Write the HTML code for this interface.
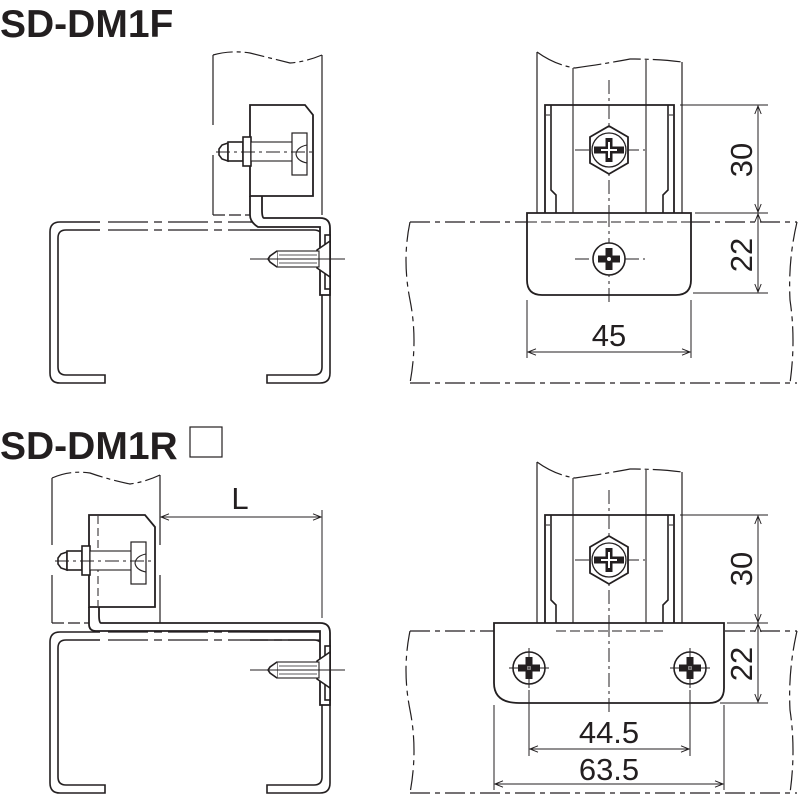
<!DOCTYPE html>
<html><head><meta charset="utf-8"><style>
html,body{margin:0;padding:0;background:#fff;width:800px;height:800px;overflow:hidden}
svg{display:block}
text{font-family:"Liberation Sans",Arial,sans-serif;fill:#231f20}
</style></head><body>
<svg width="800" height="800" viewBox="0 0 800 800" xmlns="http://www.w3.org/2000/svg">
<defs>
<marker id="a" viewBox="0 0 10 10" refX="10" refY="5" markerWidth="10" markerHeight="8" orient="auto-start-reverse" markerUnits="userSpaceOnUse"><path d="M0,1 L10,5 L0,9" fill="none" stroke="#231f20" stroke-width="1.2"/></marker>
<g id="bolt" fill="#fff" stroke="#231f20" stroke-width="1.6">
<path d="M-22,-8 L-28,-6 L-31,-2 L-31,4 L-28,8 L-22,10 Z"/>
<rect x="-22" y="-9" width="15" height="19"/>
<rect x="-7" y="-14" width="8" height="29"/>
<rect x="1" y="-9" width="42" height="19" stroke-width="1.1"/>
<rect x="42" y="-18" width="15" height="42" stroke-width="1.2"/>
<path d="M57,-6 Q47,-4 46,3 Q47,10 57,12" fill="none" stroke-width="1.1"/>
<line x1="-34" y1="1" x2="66" y2="1" stroke-width="1" stroke-dasharray="14,4,3,4"/>
</g>
<g id="csk" fill="#fff" stroke="#231f20" stroke-width="1.6">
<rect x="0" y="-24" width="5" height="54" fill="#fff"/>
<path d="M-8,-9 L5,-18 L5,18 L-8,9 Z"/>
<rect x="-48" y="-8" width="42" height="16" stroke-width="1.1"/>
<path d="M-48,-8 L-55,-3 L-57,0 L-55,3 L-48,8"/>
<line x1="-46" y1="-4" x2="-8" y2="-4" stroke-width="0.8"/>
<line x1="-46" y1="4" x2="-8" y2="4" stroke-width="0.8"/>
<line x1="-75" y1="0" x2="20" y2="0" stroke-width="1"/>
</g>
<g id="chan" fill="none" stroke="#231f20" stroke-width="1.6">
<path d="M55,161 L10,161 Q0,161 0,151 L0,10 Q0,0 10,0 L270,0 Q280,0 280,10 L280,151 Q280,161 270,161 L217,161 L217,153 L264,153 Q272,153 272,145 L272,16 Q272,8 264,8 L16,8 Q8,8 8,16 L8,145 Q8,153 16,153 L55,153 Z"/>
</g>
<g id="ph" stroke="#231f20" fill="#fff">
<circle r="16" stroke-width="1.6"/>
<path d="M-3.5,-11 H3.5 V-3.5 H11 V3.5 H3.5 V11 H-3.5 V3.5 H-11 V-3.5 H-3.5 Z" fill="#231f20" stroke="none"/>
<circle r="2" fill="#fff" stroke="none"/>
</g>
<g id="hex" stroke="#231f20" fill="#fff">
<path d="M0,-24 L19,-13 L19,13 L0,24 L-19,13 L-19,-13 Z" stroke-width="1.8"/>
<circle r="17" stroke-width="1.3"/>
<path d="M-3.5,-12 H3.5 V-3.5 H15 V3.5 H3.5 V12 H-3.5 V3.5 H-15 V-3.5 H-3.5 Z" fill="#231f20" stroke="none"/>
<path d="M-1,-8 H1 V-1 H8 V1 H1 V8 H-1 V1 H-8 V-1 H-1 Z" fill="#fff" stroke="none"/>
</g>
<g id="front" fill="none" stroke="#231f20">
<path d="M537,-53 L537,108 M682,-43 L682,108" stroke-width="1.2"/>
<path d="M537,-53 Q555,-40 575,-37 Q610,-42 630,-46 Q660,-46 682,-43" stroke-width="1.2" stroke-dasharray="28,4,4,4"/>
<line x1="573" y1="-37" x2="573" y2="108" stroke-width="1.1"/>
<line x1="646" y1="-45" x2="646" y2="108" stroke-width="1.1"/>
<path d="M545,108 L545,0 L674,0 L674,108" stroke-width="1.8"/>
<path d="M551,0 L551,85 L556,90 L556,108 M668,0 L668,85 L663,90 L663,108" stroke-width="1.6"/>
<path d="M546,10 L550,10 M669,10 L673,10" stroke-width="1"/>
<line x1="609" y1="-25" x2="609" y2="108" stroke-width="1" stroke-dasharray="14,4,3,4"/>
<line x1="575" y1="45" x2="645" y2="45" stroke-width="1" stroke-dasharray="14,4,3,4"/>
<use href="#hex" x="609" y="45"/>
</g>
</defs>

<text x="0" y="37" font-size="39" font-weight="bold">SD-DM1F</text>
<text x="0" y="459" font-size="39" font-weight="bold">SD-DM1R</text>
<rect x="190" y="427" width="32" height="30" fill="none" stroke="#231f20" stroke-width="1.2"/>

<!-- TOP LEFT -->
<g fill="none" stroke="#231f20" stroke-width="1.2">
<path d="M213,215 L213,55 M322,55 L322,215"/>
<path d="M213,55 Q230,50 250,53 Q270,58 290,63 Q305,62 322,55" stroke-dasharray="20,4,4,4"/>
<path d="M213,215 L255,215" stroke-dasharray="12,4"/>
</g>
<rect x="211" y="125" width="5" height="30" fill="#fff"/>
<use href="#chan" x="50" y="222"/>
<g fill="#fff" stroke="#231f20" stroke-width="1.8">
<path d="M250,196 L250,215 Q250,222 258,227 L320,227 L320,295 L330,295 L330,228 Q330,218 320,218 L264,218 Q262,218 262,210 L262,196"/>
<path d="M250,105 L305,105 L313,115 L313,196 L250,196 Z"/>
</g>
<rect x="100" y="219" width="150" height="12" fill="#fff"/>
<path d="M108,222 H250 M108,230 H250" stroke="#231f20" stroke-width="1.2" stroke-dasharray="40,6,8,6" fill="none"/>
<use href="#bolt" x="250" y="151"/>
<use href="#csk" x="325" y="259"/>

<!-- TOP RIGHT -->
<g fill="none" stroke="#231f20" stroke-width="1.2">
<path d="M410,222 H797 M410,383 H797" stroke-dasharray="20,5,5,5"/>
<path d="M410,222 Q402,260 410,300 Q418,340 410,383" stroke-dasharray="20,5,5,5"/>
<path d="M797,222 Q788,260 790,300 Q796,340 790,383" stroke-dasharray="20,5,5,5"/>
</g>
<use href="#front" y="105"/>
<path d="M527,213 L691,213 L691,280 Q691,295 676,295 L542,295 Q527,295 527,280 Z" fill="#fff" stroke="#231f20" stroke-width="1.8"/>
<path d="M527,222 H691" stroke="#231f20" stroke-width="1" stroke-dasharray="10,4"/>
<line x1="609" y1="213" x2="609" y2="305" stroke="#231f20" stroke-width="1" stroke-dasharray="14,4,3,4"/>
<line x1="575" y1="259" x2="645" y2="259" stroke="#231f20" stroke-width="1" stroke-dasharray="14,4,3,4"/>
<use href="#ph" x="609" y="259"/>
<g stroke="#231f20" stroke-width="1" fill="none">
<path d="M680,105 H768 M695,213 H768 M693,293 H768 M527,300 V358 M691,300 V358"/>
<line x1="758" y1="106" x2="758" y2="212" marker-start="url(#a)" marker-end="url(#a)"/>
<line x1="758" y1="214" x2="758" y2="292" marker-start="url(#a)" marker-end="url(#a)"/>
<line x1="528" y1="352" x2="690" y2="352" marker-start="url(#a)" marker-end="url(#a)"/>
</g>
<text x="609" y="346" font-size="31" text-anchor="middle">45</text>
<text transform="translate(752,160) rotate(-90)" font-size="31" text-anchor="middle">30</text>
<text transform="translate(752,255) rotate(-90)" font-size="31" text-anchor="middle">22</text>

<!-- BOTTOM LEFT -->
<g fill="none" stroke="#231f20" stroke-width="1.2">
<path d="M52,623 L52,478 M160,475 L160,623"/>
<path d="M52,478 Q70,470 90,473 Q110,480 130,484 Q145,482 160,475" stroke-dasharray="20,4,4,4"/>
<path d="M52,623 L90,623" stroke-dasharray="12,4"/>
</g>
<rect x="50" y="545" width="5" height="30" fill="#fff"/>
<rect x="157" y="545" width="5" height="30" fill="#fff"/>
<use href="#chan" x="50" y="632"/>
<rect x="100" y="629" width="150" height="12" fill="#fff"/>
<path d="M108,632 H250 M108,640 H320" stroke="#231f20" stroke-width="1.2" stroke-dasharray="40,6,8,6" fill="none"/>
<g fill="#fff" stroke="#231f20" stroke-width="1.8">
<path d="M89,607 L89,624 Q89,631 96,631 L320,631 L320,705 L330,705 L330,633 Q330,623 320,623 L101,623 Q99,623 99,615 L99,607"/>
<path d="M89,515 L145,515 L155,527 L155,607 L89,607 Z"/>
</g>
<line x1="98" y1="516" x2="98" y2="606" stroke="#231f20" stroke-width="1" stroke-dasharray="8,4"/>
<use href="#bolt" x="89" y="560"/>
<use href="#csk" x="325" y="670"/>
<g stroke="#231f20" stroke-width="1" fill="none">
<line x1="322" y1="510" x2="322" y2="618"/>
<line x1="161" y1="517" x2="321" y2="517" marker-start="url(#a)" marker-end="url(#a)"/>
</g>
<text x="240" y="509" font-size="31" text-anchor="middle">L</text>

<!-- BOTTOM RIGHT -->
<g fill="none" stroke="#231f20" stroke-width="1.2">
<path d="M410,631 H797 M410,793 H797" stroke-dasharray="20,5,5,5"/>
<path d="M410,631 Q402,670 410,710 Q418,750 410,793" stroke-dasharray="20,5,5,5"/>
<path d="M797,631 Q788,670 790,710 Q796,750 790,793" stroke-dasharray="20,5,5,5"/>
</g>
<use href="#front" y="515"/>
<path d="M494,623 L724,623 L724,688 Q724,703 709,703 L519,703 Q494,703 494,683 Z" fill="#fff" stroke="#231f20" stroke-width="1.8"/>
<path d="M556,631 H663" stroke="#231f20" stroke-width="1" stroke-dasharray="10,4"/>
<line x1="609" y1="623" x2="609" y2="712" stroke="#231f20" stroke-width="1" stroke-dasharray="14,4,3,4"/>
<use href="#ph" x="529" y="668"/>
<use href="#ph" x="690" y="668"/>
<g stroke="#231f20" stroke-width="1" fill="none">
<path d="M509,668 H549 M670,668 H710 M529,648 V688 M690,648 V688"/>
<path d="M680,515 H768 M727,623 H768 M720,703 H768 M529,690 V756 M690,690 V756 M494,705 V790 M724,705 V790"/>
<line x1="758" y1="516" x2="758" y2="622" marker-start="url(#a)" marker-end="url(#a)"/>
<line x1="758" y1="624" x2="758" y2="702" marker-start="url(#a)" marker-end="url(#a)"/>
<line x1="530" y1="749" x2="689" y2="749" marker-start="url(#a)" marker-end="url(#a)"/>
<line x1="495" y1="784" x2="723" y2="784" marker-start="url(#a)" marker-end="url(#a)"/>
</g>
<text x="609" y="743" font-size="31" text-anchor="middle">44.5</text>
<text x="609" y="780" font-size="31" text-anchor="middle">63.5</text>
<text transform="translate(752,569) rotate(-90)" font-size="31" text-anchor="middle">30</text>
<text transform="translate(752,664) rotate(-90)" font-size="31" text-anchor="middle">22</text>
</svg>
</body></html>
